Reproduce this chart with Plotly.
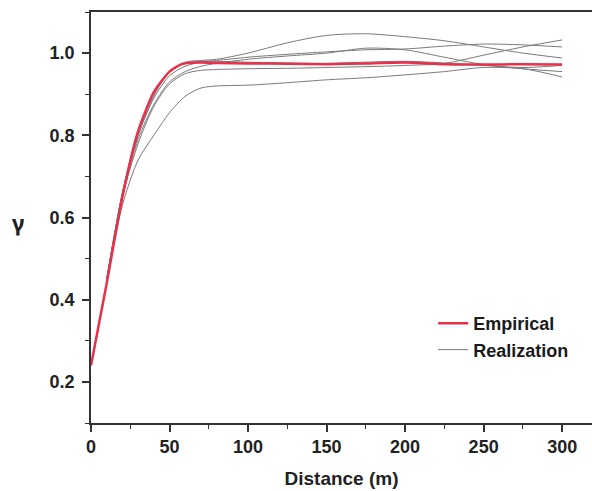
import plotly.graph_objects as go

# Empirical variogram
emp_x = [0, 10, 20, 30, 40, 50, 57, 60, 70, 80, 100, 125, 150, 175, 200, 225, 250, 275, 300]
emp_y = [0.24, 0.44, 0.65, 0.81, 0.905, 0.955, 0.972, 0.975, 0.977, 0.976, 0.975, 0.974, 0.973,
         0.975, 0.977, 0.973, 0.972, 0.973, 0.972]

# Realizations
real_x = [10, 20, 30, 40, 50, 60, 70, 80, 100, 125, 150, 175, 200, 225, 250, 275, 300]
real_1 = [0.45, 0.66, 0.80, 0.895, 0.955, 0.978, 0.982, 0.985, 1.0, 1.025, 1.043, 1.047, 1.04, 1.03, 1.015, 1.0, 0.988]
real_2 = [0.45, 0.65, 0.78, 0.87, 0.925, 0.95, 0.958, 0.96, 0.962, 0.963, 0.965, 0.967, 0.97, 0.975, 0.995, 1.015, 1.032]
real_3 = [0.45, 0.66, 0.80, 0.89, 0.945, 0.968, 0.978, 0.982, 0.99, 0.997, 1.003, 1.008, 1.01, 1.017, 1.022, 1.02, 1.015]
real_4 = [0.45, 0.65, 0.79, 0.875, 0.93, 0.955, 0.968, 0.975, 0.985, 0.993, 1.0, 1.012, 1.008, 0.99, 0.972, 0.962, 0.955]
real_5 = [0.44, 0.63, 0.74, 0.80, 0.855, 0.895, 0.915, 0.92, 0.922, 0.928, 0.935, 0.94, 0.947, 0.955, 0.965, 0.962, 0.942]
real_6 = [0.45, 0.66, 0.81, 0.90, 0.955, 0.975, 0.98, 0.98, 0.978, 0.976, 0.975, 0.978, 0.98, 0.976, 0.97, 0.965, 0.97]
realizations = [real_1, real_2, real_3, real_4, real_5, real_6]

x_ticks = [0, 50, 100, 150, 200, 250, 300]
y_ticks = [0.2, 0.4, 0.6, 0.8, 1.0]
y_tick_labels = ["0.2", "0.4", "0.6", "0.8", "1.0"]

FONT = "Liberation Sans, Arial, sans-serif"
GRAY = "#7a7a7a"
RED = "#e8304a"

fig = go.Figure()

for i, ry in enumerate(realizations):
    fig.add_trace(go.Scatter(
        x=real_x, y=ry, mode="lines", line=dict(color=GRAY, width=1, shape="spline", smoothing=0.8),
        name="<b>Realization</b>", showlegend=(i == 0), legendrank=2,
    ))

fig.add_trace(go.Scatter(
    x=emp_x, y=emp_y, mode="lines", line=dict(color=RED, width=2.5, shape="spline", smoothing=0.6),
    name="<b>Empirical</b>", legendrank=1,
))

fig.update_layout(
    width=592, height=491,
    margin=dict(l=91, r=0, t=12, b=68, autoexpand=False),
    paper_bgcolor="white", plot_bgcolor="white",
    font=dict(family=FONT, color="#222", size=17),
    legend=dict(
        x=0.683, y=0.287, xanchor="left", yanchor="top",
        bgcolor="rgba(0,0,0,0)", font=dict(family=FONT, size=18, color="#1a1a1a"),
        tracegroupgap=0, itemwidth=30,
    ),
    annotations=[dict(
        text="<b>γ</b>", xref="paper", yref="paper", x=-0.145, y=0.49,
        xanchor="center", yanchor="middle", showarrow=False,
        font=dict(family="Noto Sans", size=22, color="#222"),
    )],
)

fig.update_xaxes(
    range=[0, 319], showgrid=False, zeroline=False, automargin=False,
    showline=True, linecolor="#333", linewidth=1.5, mirror=True,
    tickmode="array", tickvals=x_ticks, ticktext=[f"<b>{v}</b>" for v in x_ticks],
    ticks="outside", ticklen=7, tickwidth=1.5, tickcolor="#333",
    tickfont=dict(family=FONT, size=18, color="#222"),
    minor=dict(dtick=25, tick0=0, ticks="outside", ticklen=4, tickwidth=1.2, tickcolor="#333"),
    title=dict(text="<b>Distance (m)</b>", font=dict(family=FONT, size=19, color="#222"), standoff=15),
)

fig.update_yaxes(
    range=[0.1, 1.1], showgrid=False, zeroline=False, automargin=False,
    showline=True, linecolor="#333", linewidth=1.5, mirror=False,
    tickmode="array", tickvals=y_ticks, ticktext=[f"<b>{t}</b>" for t in y_tick_labels],
    ticks="outside", ticklen=7, tickwidth=1.5, tickcolor="#333", ticklabelstandoff=4,
    tickfont=dict(family=FONT, size=18, color="#222"),
    minor=dict(dtick=0.1, tick0=0.1, ticks="outside", ticklen=4, tickwidth=1.2, tickcolor="#333"),
)

fig.write_html("out.html", config={"displayModeBar": False},
               post_script="document.body.style.margin='0';document.body.style.overflow='hidden';")
